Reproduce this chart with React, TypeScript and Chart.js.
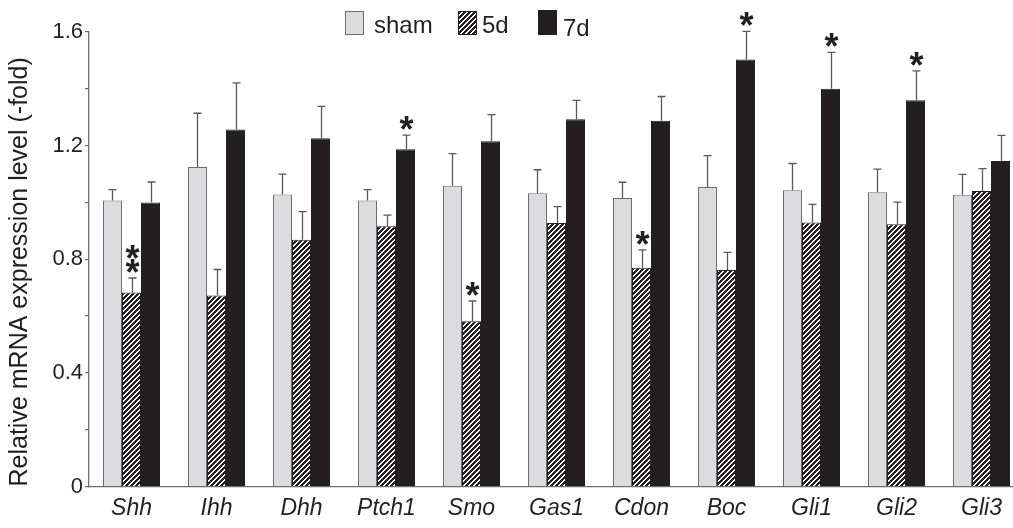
import React, { useEffect, useRef } from 'react';
import { Chart, registerables } from 'chart.js';

Chart.register(...registerables);

const categories = ['Shh', 'Ihh', 'Dhh', 'Ptch1', 'Smo', 'Gas1', 'Cdon', 'Boc', 'Gli1', 'Gli2', 'Gli3'];
const seriesLabels = ['sham', '5d', '7d'];

const shamValues = [1.007, 1.125, 1.028, 1.007, 1.059, 1.032, 1.016, 1.054, 1.043, 1.036, 1.027];
const shamErrors = [0.038, 0.189, 0.072, 0.038, 0.113, 0.083, 0.055, 0.111, 0.094, 0.081, 0.072];

const d5Values = [0.683, 0.672, 0.869, 0.916, 0.582, 0.928, 0.770, 0.762, 0.929, 0.923, 1.040];
const d5Errors = [0.051, 0.092, 0.099, 0.039, 0.071, 0.057, 0.063, 0.062, 0.064, 0.078, 0.079];

const d7Values = [1.0, 1.257, 1.226, 1.187, 1.215, 1.293, 1.288, 1.503, 1.4, 1.36, 1.146];
const d7Errors = [0.072, 0.164, 0.112, 0.05, 0.094, 0.066, 0.085, 0.099, 0.128, 0.103, 0.09];

const shamStars = [0, 0, 0, 0, 0, 0, 0, 0, 0, 0, 0];
const d5Stars = [2, 0, 0, 0, 1, 0, 1, 0, 0, 0, 0];
const d7Stars = [0, 0, 0, 1, 0, 0, 0, 1, 1, 1, 0];

const yTickValues = [0, 0.4, 0.8, 1.2, 1.6];
const yTitle = 'Relative mRNA expression level (-fold)';

const FONT = "'Liberation Sans', Arial, Helvetica, sans-serif";
const INK = '#231f20';
const GREY_LINE = '#6d6e70';
const SHAM_FILL = '#dcdcde';

function makeHatch(): CanvasPattern | string {
  const p = 5;
  const c = document.createElement('canvas');
  c.width = p;
  c.height = p;
  const ctx = c.getContext('2d');
  if (!ctx) return '#777';
  const img = ctx.createImageData(p, p);
  for (let y = 0; y < p; y++) {
    for (let x = 0; x < p; x++) {
      const i = (y * p + x) * 4;
      const black = (x + y) % p < 3;
      img.data[i] = black ? 0x23 : 0xff;
      img.data[i + 1] = black ? 0x1f : 0xff;
      img.data[i + 2] = black ? 0x20 : 0xff;
      img.data[i + 3] = 255;
    }
  }
  ctx.putImageData(img, 0, 0);
  return ctx.createPattern(c, 'repeat') || '#777';
}

export default function App() {
  const ref = useRef<HTMLCanvasElement | null>(null);

  useEffect(() => {
    const canvas = ref.current;
    if (!canvas) return;
    const hatch = makeHatch();
    const errors = [shamErrors, d5Errors, d7Errors];
    const values = [shamValues, d5Values, d7Values];
    const stars = [shamStars, d5Stars, d7Stars];

    const errorBarPlugin = {
      id: 'errorBars',
      afterDatasetsDraw(chart: any) {
        const ctx = chart.ctx;
        const yScale = chart.scales.y;
        ctx.save();
        ctx.strokeStyle = '#58595b';
        ctx.lineWidth = 1.3;
        chart.data.datasets.forEach((_ds: any, di: number) => {
          const meta = chart.getDatasetMeta(di);
          meta.data.forEach((el: any, j: number) => {
            const x = Math.round(el.x) + 0.5;
            const yBar = yScale.getPixelForValue(values[di][j]);
            const yErr = yScale.getPixelForValue(values[di][j] + errors[di][j]);
            ctx.beginPath();
            ctx.moveTo(x, yBar);
            ctx.lineTo(x, yErr);
            ctx.moveTo(x - 4, yErr);
            ctx.lineTo(x + 4, yErr);
            ctx.stroke();
            const n = stars[di][j];
            if (n > 0) {
              ctx.fillStyle = INK;
              ctx.font = `bold 36px ${FONT}`;
              ctx.textAlign = 'center';
              ctx.textBaseline = 'alphabetic';
              const m = ctx.measureText('*');
              const shift = (m.actualBoundingBoxAscent - m.actualBoundingBoxDescent) / 2;
              for (let k = 0; k < n; k++) {
                const cy = yErr - 12 - k * 14;
                ctx.fillText('*', x, cy + shift);
              }
            }
          });
        });
        ctx.restore();
      },
    };

    const legendPlugin = {
      id: 'customLegend',
      afterDraw(chart: any) {
        const ctx = chart.ctx;
        const items = [
          { box: [345.5, 11.5, 18, 23], tx: 374, ty: 32.5, fill: SHAM_FILL, stroke: GREY_LINE },
          { box: [458.5, 11.5, 18, 23], tx: 482, ty: 33, fill: hatch, stroke: INK },
          { box: [538.5, 10.5, 18, 24], tx: 563, ty: 35.5, fill: INK, stroke: INK },
        ];
        ctx.save();
        ctx.font = `24px ${FONT}`;
        ctx.textBaseline = 'alphabetic';
        ctx.textAlign = 'left';
        items.forEach((it, i) => {
          const [bx, by, bw, bh] = it.box;
          ctx.fillStyle = it.fill as any;
          ctx.fillRect(bx, by, bw, bh);
          ctx.strokeStyle = it.stroke;
          ctx.lineWidth = 1;
          ctx.strokeRect(bx, by, bw, bh);
          ctx.fillStyle = INK;
          ctx.fillText(chart.data.datasets[i].label, it.tx, it.ty);
        });
        ctx.restore();
      },
    };

    const chart = new Chart(canvas, {
      type: 'bar',
      data: {
        labels: categories,
        datasets: [
          {
            label: seriesLabels[0],
            data: shamValues,
            backgroundColor: SHAM_FILL,
            borderColor: GREY_LINE,
            borderWidth: 1,
          },
          {
            label: seriesLabels[1],
            data: d5Values,
            backgroundColor: hatch as any,
            borderColor: INK,
            borderWidth: 1,
          },
          {
            label: seriesLabels[2],
            data: d7Values,
            backgroundColor: INK,
            borderColor: INK,
            borderWidth: 1,
          },
        ],
      },
      options: {
        responsive: false,
        animation: false,
        events: [],
        layout: { padding: { top: 32, left: 0, right: 6, bottom: 0 } },
        datasets: {
          bar: { categoryPercentage: 0.6706, barPercentage: 1.0 },
        },
        plugins: {
          legend: { display: false },
          tooltip: { enabled: false },
          title: { display: false },
        },
        scales: {
          x: {
            offset: true,
            grid: { display: false, drawTicks: false },
            border: { display: true, color: GREY_LINE, width: 1.3 },
            ticks: {
              font: { size: 23, style: 'italic', family: FONT },
              color: INK,
              padding: 8,
              maxRotation: 0,
              minRotation: 0,
              autoSkip: false,
            },
            afterFit: (s: any) => {
              s.height = 41.5;
            },
          },
          y: {
            min: 0,
            max: 1.6,
            ticks: {
              stepSize: 0.2,
              font: { size: 22, family: FONT },
              color: INK,
              padding: 2,
              callback: (v: any) => {
                const n = Number(v);
                const hit = yTickValues.find((t) => Math.abs(t - n) < 1e-6);
                if (hit === undefined) return '';
                return hit === 0 ? '0' : hit.toFixed(1);
              },
            },
            grid: {
              display: true,
              drawOnChartArea: false,
              drawTicks: true,
              tickLength: 4,
              color: GREY_LINE,
              lineWidth: 1.2,
            },
            border: { display: true, color: GREY_LINE, width: 1.3 },
            title: {
              display: true,
              text: yTitle,
              align: 'start',
              font: { size: 25, family: FONT },
              color: INK,
              padding: { top: 5, bottom: 0 },
            },
            afterFit: (s: any) => {
              s.width = 89;
            },
          },
        },
      },
      plugins: [errorBarPlugin, legendPlugin],
    });

    return () => {
      chart.destroy();
    };
  }, []);

  return (
    <div
      style={{
        position: 'fixed',
        left: 0,
        top: 0,
        width: 1013,
        height: 528,
        overflow: 'hidden',
        background: '#ffffff',
      }}
    >
      <canvas ref={ref} width={1030} height={528} style={{ display: 'block', width: 1030, height: 528 }} />
    </div>
  );
}
